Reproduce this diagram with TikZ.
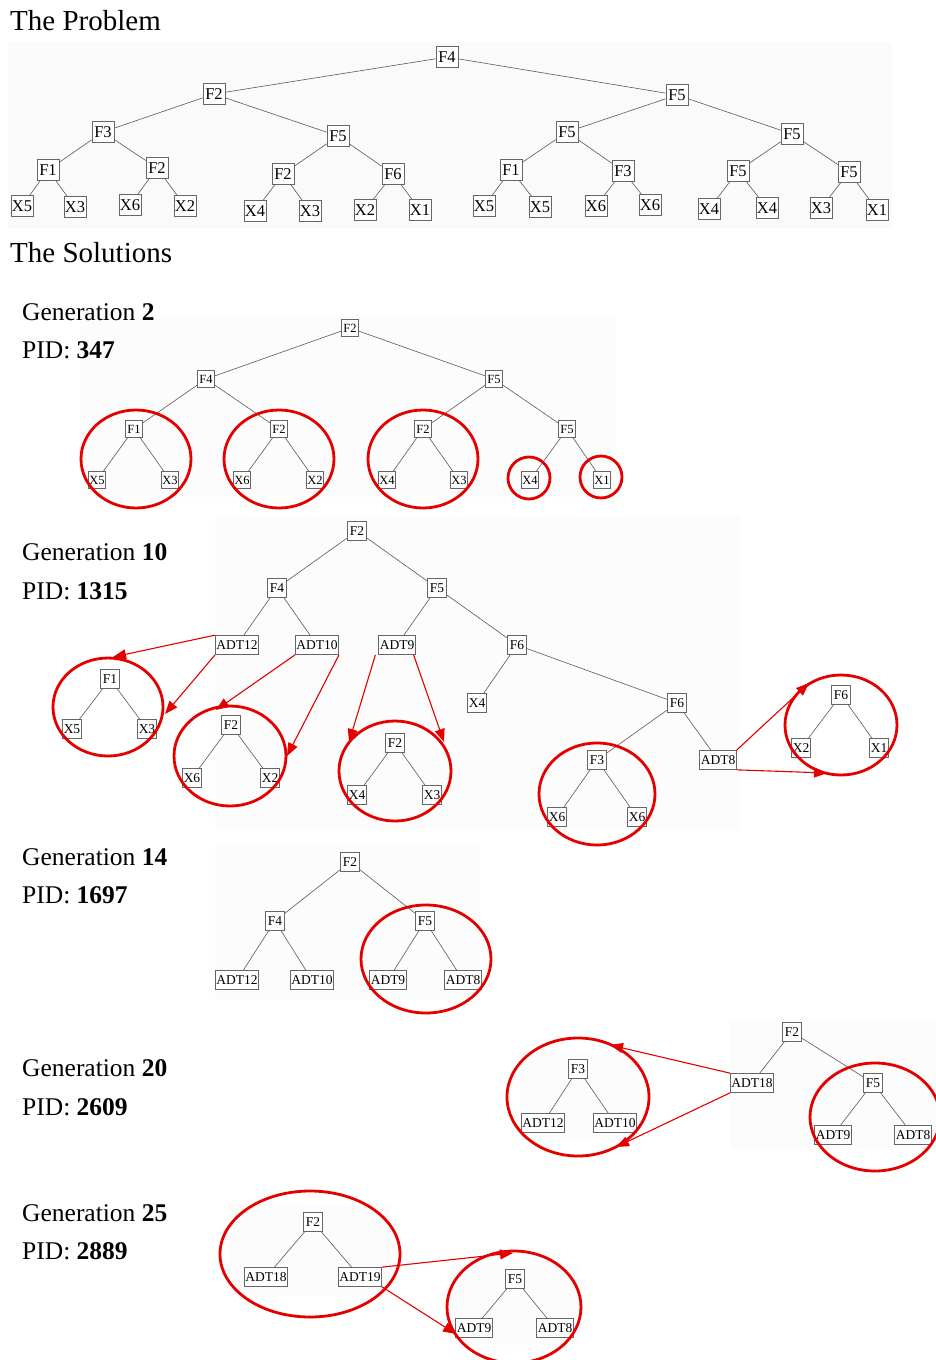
\documentclass[tikz,border=0pt]{standalone}
\usepackage{fontspec}
\setmainfont{Liberation Serif}
\usetikzlibrary{arrows.meta}
\tikzset{
  bx/.style={draw=black!60, fill=white, line width=0.7pt, inner sep=1pt},
  tA/.style={bx, font=\fontsize{16.5}{16.5}\selectfont, minimum width=22pt, minimum height=21pt},
  tB/.style={bx, font=\fontsize{12.5}{12.5}\selectfont, minimum width=17pt, minimum height=17pt},
  tC/.style={bx, font=\fontsize{13.5}{13.5}\selectfont, minimum width=19pt, minimum height=19pt},
  edge/.style={draw=black!65, line width=0.6pt},
  ring/.style={draw=red!90!black, line width=2.8pt},
  rarr/.style={draw=red!90!black, line width=1.1pt, -{Triangle[length=13pt,width=10pt]}},
  lbl/.style={anchor=base west, inner sep=0pt, font=\fontsize{25.5}{25.5}\selectfont},
  hdr/.style={anchor=base west, inner sep=0pt, font=\fontsize{29}{29}\selectfont},
  bg/.style={fill=black!2, draw=none},
  bgl/.style={fill=black!1.2, draw=none}
}
\begin{document}
\begin{tikzpicture}[x=1pt,y=-1pt]
\useasboundingbox (0,0) rectangle (936,1360);
\fill[white] (0,0) rectangle (936,1360);
% faint image backgrounds
\fill[bg] (8,42) rectangle (892,228);
\fill[bgl] (80,316) rectangle (615,497);
\fill[bgl] (215,515) rectangle (740,830);
\fill[bgl] (215,845) rectangle (480,1000);
\fill[bgl] (730,1020) rectangle (936,1150);
\fill[bgl] (520,1053) rectangle (640,1140);
\fill[bgl] (230,1205) rectangle (390,1295);
\fill[bgl] (450,1265) rectangle (580,1345);

% headers
\node[hdr] (hp) at (10,30) {The Problem};
\node[hdr] (hs) at (10,262) {The Solutions};

% ---------------- The Problem tree
\node[tA] (a0) at (447,57) {F4};
\node[tA] (a1) at (214,94) {F2};
\node[tA] (a2) at (677,95) {F5};
\node[tA] (b1) at (103,132) {F3};
\node[tA] (b2) at (338,136) {F5};
\node[tA] (b3) at (567,132) {F5};
\node[tA] (b4) at (792,134) {F5};
\node[tA] (c1) at (48,170) {F1};
\node[tA] (c2) at (157,168) {F2};
\node[tA] (c3) at (283,174) {F2};
\node[tA] (c4) at (393,174) {F6};
\node[tA] (c5) at (511,170) {F1};
\node[tA] (c6) at (623,171) {F3};
\node[tA] (c7) at (738,171) {F5};
\node[tA] (c8) at (849,172) {F5};
\node[tA] (d1) at (22,206) {X5};
\node[tA] (d2) at (75,207) {X3};
\node[tA] (d3) at (130,205) {X6};
\node[tA] (d4) at (185,206) {X2};
\node[tA] (d5) at (255,211) {X4};
\node[tA] (d6) at (310,211) {X3};
\node[tA] (d7) at (365,210) {X2};
\node[tA] (d8) at (420,210) {X1};
\node[tA] (d9) at (484,206) {X5};
\node[tA] (d10) at (540,207) {X5};
\node[tA] (d11) at (596,206) {X6};
\node[tA] (d12) at (650,205) {X6};
\node[tA] (d13) at (709,209) {X4};
\node[tA] (d14) at (767,208) {X4};
\node[tA] (d15) at (821,208) {X3};
\node[tA] (d16) at (877,210) {X1};
\draw[edge] (a0)--(a1); \draw[edge] (a0)--(a2);
\draw[edge] (a1)--(b1); \draw[edge] (a1)--(b2);
\draw[edge] (a2)--(b3); \draw[edge] (a2)--(b4);
\draw[edge] (b1)--(c1); \draw[edge] (b1)--(c2);
\draw[edge] (b2)--(c3); \draw[edge] (b2)--(c4);
\draw[edge] (b3)--(c5); \draw[edge] (b3)--(c6);
\draw[edge] (b4)--(c7); \draw[edge] (b4)--(c8);
\draw[edge] (c1)--(d1); \draw[edge] (c1)--(d2);
\draw[edge] (c2)--(d3); \draw[edge] (c2)--(d4);
\draw[edge] (c3)--(d5); \draw[edge] (c3)--(d6);
\draw[edge] (c4)--(d7); \draw[edge] (c4)--(d8);
\draw[edge] (c5)--(d9); \draw[edge] (c5)--(d10);
\draw[edge] (c6)--(d11); \draw[edge] (c6)--(d12);
\draw[edge] (c7)--(d13); \draw[edge] (c7)--(d14);
\draw[edge] (c8)--(d15); \draw[edge] (c8)--(d16);

% ---------------- Generation 2
\node[lbl] (g2a) at (22,320) {Generation \textbf{2}};
\node[lbl] (g2b) at (22,358) {PID: \textbf{347}};
\node[tB] (e0) at (350,328) {F2};
\node[tB] (e1) at (206,379) {F4};
\node[tB] (e2) at (494,379) {F5};
\node[tB] (e3) at (134,429) {F1};
\node[tB] (e4) at (279,429) {F2};
\node[tB] (e5) at (423,429) {F2};
\node[tB] (e6) at (567,429) {F5};
\node[tB] (e7) at (97,480) {X5};
\node[tB] (e8) at (170,480) {X3};
\node[tB] (e9) at (242,480) {X6};
\node[tB] (e10) at (315,480) {X2};
\node[tB] (e11) at (387,480) {X4};
\node[tB] (e12) at (459,480) {X3};
\node[tB] (e13) at (530,480) {X4};
\node[tB] (e14) at (602,480) {X1};
\draw[edge] (e0)--(e1); \draw[edge] (e0)--(e2);
\draw[edge] (e1)--(e3); \draw[edge] (e1)--(e4);
\draw[edge] (e2)--(e5); \draw[edge] (e2)--(e6);
\draw[edge] (e3)--(e7); \draw[edge] (e3)--(e8);
\draw[edge] (e4)--(e9); \draw[edge] (e4)--(e10);
\draw[edge] (e5)--(e11); \draw[edge] (e5)--(e12);
\draw[edge] (e6)--(e13); \draw[edge] (e6)--(e14);
\draw[ring] (136,459) ellipse [x radius=55, y radius=49];
\draw[ring] (279,459) ellipse [x radius=55, y radius=49];
\draw[ring] (423,459) ellipse [x radius=55, y radius=49];
\draw[ring] (529,478) ellipse [x radius=21, y radius=21];
\draw[ring] (601,477) ellipse [x radius=21, y radius=21];

% ---------------- Generation 10
\node[lbl] (g10a) at (22,560) {Generation \textbf{10}};
\node[lbl] (g10b) at (22,599) {PID: \textbf{1315}};
\node[tC] (f0) at (357,531) {F2};
\node[tC] (f1) at (277,588) {F4};
\node[tC] (f2) at (437,588) {F5};
\node[tC] (f3) at (237,645) {ADT12};
\node[tC] (f4) at (317,645) {ADT10};
\node[tC] (f5) at (397,645) {ADT9};
\node[tC] (f6) at (517,645) {F6};
\node[tC] (f7) at (477,703) {X4};
\node[tC] (f8) at (677,703) {F6};
\node[tC] (f9) at (597,760) {F3};
\node[tC] (f10) at (718,760) {ADT8};
\node[tC] (f11) at (557,817) {X6};
\node[tC] (f12) at (637,817) {X6};
\draw[edge] (f0)--(f1); \draw[edge] (f0)--(f2);
\draw[edge] (f1)--(f3); \draw[edge] (f1)--(f4);
\draw[edge] (f2)--(f5); \draw[edge] (f2)--(f6);
\draw[edge] (f6)--(f7); \draw[edge] (f6)--(f8);
\draw[edge] (f8)--(f9); \draw[edge] (f8)--(f10);
\draw[edge] (f9)--(f11); \draw[edge] (f9)--(f12);
% detached subtrees
\node[tC] (s1) at (110,679) {F1};
\node[tC] (s1a) at (72,729) {X5};
\node[tC] (s1b) at (147,729) {X3};
\node[tC] (s2) at (231,725) {F2};
\node[tC] (s2a) at (192,778) {X6};
\node[tC] (s2b) at (270,778) {X2};
\node[tC] (s3) at (395,743) {F2};
\node[tC] (s3a) at (357,795) {X4};
\node[tC] (s3b) at (432,795) {X3};
\node[tC] (s4) at (841,695) {F6};
\node[tC] (s4a) at (801,748) {X2};
\node[tC] (s4b) at (879,748) {X1};
\draw[edge] (s1)--(s1a); \draw[edge] (s1)--(s1b);
\draw[edge] (s2)--(s2a); \draw[edge] (s2)--(s2b);
\draw[edge] (s3)--(s3a); \draw[edge] (s3)--(s3b);
\draw[edge] (s4)--(s4a); \draw[edge] (s4)--(s4b);
\draw[ring] (108,707) ellipse [x radius=55, y radius=49];
\draw[ring] (230,756) ellipse [x radius=56, y radius=50];
\draw[ring] (395,771) ellipse [x radius=56, y radius=50];
\draw[ring] (597,794) ellipse [x radius=58, y radius=51];
\draw[ring] (841,725) ellipse [x radius=56, y radius=50];
\coordinate (t1) at (113,657);
\coordinate (t2) at (165,714);
\coordinate (t3) at (216,710);
\coordinate (t4) at (287,756);
\coordinate (t5) at (349,742);
\coordinate (t6) at (444,742);
\coordinate (t7) at (809,683);
\coordinate (t8) at (827,773);
\draw[rarr] (f3.north west) -- (t1);
\draw[rarr] (f3.south west) -- (t2);
\draw[rarr] (f4.south west) -- (t3);
\draw[rarr] (f4.south east) -- (t4);
\draw[rarr] ([xshift=-3pt]f5.south west) -- (t5);
\draw[rarr] ([xshift=-2pt]f5.south east) -- (t6);
\draw[rarr] (f10.north east) -- (t7);
\draw[rarr] (f10.south east) -- (t8);

% ---------------- Generation 14
\node[lbl] (g14a) at (22,865) {Generation \textbf{14}};
\node[lbl] (g14b) at (22,903) {PID: \textbf{1697}};
\node[tC] (h0) at (350,862) {F2};
\node[tC] (h1) at (275,921) {F4};
\node[tC] (h2) at (425,921) {F5};
\node[tC] (h3) at (237,980) {ADT12};
\node[tC] (h4) at (312,980) {ADT10};
\node[tC] (h5) at (388,980) {ADT9};
\node[tC] (h6) at (463,980) {ADT8};
\draw[edge] (h0)--(h1); \draw[edge] (h0)--(h2);
\draw[edge] (h1)--(h3); \draw[edge] (h1)--(h4);
\draw[edge] (h2)--(h5); \draw[edge] (h2)--(h6);
\draw[ring] (426,959) ellipse [x radius=65, y radius=54];

% ---------------- Generation 20
\node[lbl] (g20a) at (22,1076) {Generation \textbf{20}};
\node[lbl] (g20b) at (22,1115) {PID: \textbf{2609}};
\node[tC] (k0) at (792,1032) {F2};
\node[tC] (k1) at (752,1083) {ADT18};
\node[tC] (k2) at (873,1083) {F5};
\node[tC] (k3) at (833,1135) {ADT9};
\node[tC] (k4) at (913,1135) {ADT8};
\draw[edge] (k0)--(k1); \draw[edge] (k0)--(k2);
\draw[edge] (k2)--(k3); \draw[edge] (k2)--(k4);
\node[tC] (m0) at (578,1069) {F3};
\node[tC] (m1) at (543,1123) {ADT12};
\node[tC] (m2) at (615,1123) {ADT10};
\draw[edge] (m0)--(m1); \draw[edge] (m0)--(m2);
\draw[ring] (578,1097) ellipse [x radius=71, y radius=59];
\draw[ring] (875,1117) ellipse [x radius=65, y radius=54];
\coordinate (u1) at (610,1045);
\coordinate (u2) at (616,1147);
\draw[rarr] (k1.north west) -- (u1);
\draw[rarr] (k1.south west) -- (u2);

% ---------------- Generation 25
\node[lbl] (g25a) at (22,1221) {Generation \textbf{25}};
\node[lbl] (g25b) at (22,1259) {PID: \textbf{2889}};
\node[tC] (n0) at (313,1222) {F2};
\node[tC] (n1) at (266,1277) {ADT18};
\node[tC] (n2) at (360,1277) {ADT19};
\draw[edge] (n0)--(n1); \draw[edge] (n0)--(n2);
\node[tC] (q0) at (515,1279) {F5};
\node[tC] (q1) at (474,1328) {ADT9};
\node[tC] (q2) at (555,1328) {ADT8};
\draw[edge] (q0)--(q1); \draw[edge] (q0)--(q2);
\draw[ring] (310,1254) ellipse [x radius=90, y radius=63];
\draw[ring] (514,1307) ellipse [x radius=67, y radius=56];
\coordinate (v1) at (513,1253);
\coordinate (v2) at (456,1334);
\draw[rarr] (n2.north east) -- (v1);
\draw[rarr] (n2.south east) -- (v2);
\end{tikzpicture}
\end{document}
